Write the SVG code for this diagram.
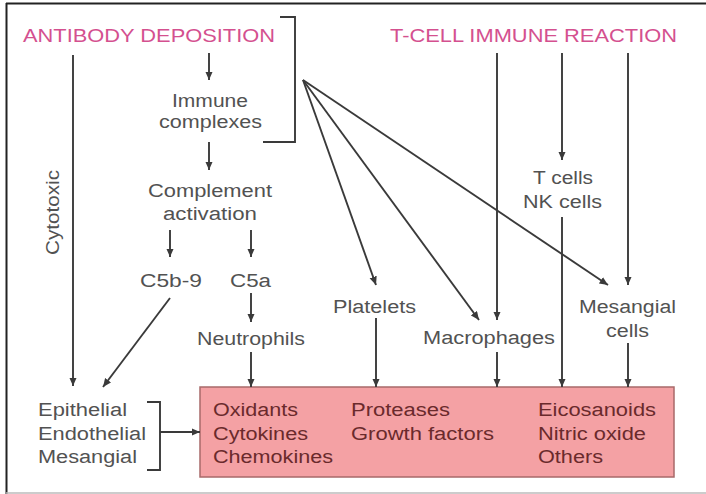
<svg xmlns="http://www.w3.org/2000/svg" width="706" height="494" viewBox="0 0 706 494">
<style>
text{font-family:"Liberation Sans",Arial,sans-serif;font-size:18px;}
.t{fill:#525252;}
.h{fill:#d4508f;}
.b{fill:#6a2a2c;}
.ln{stroke:#3a3a3a;stroke-width:1.9;fill:none;}
</style>
<defs>
<marker id="ah" markerUnits="userSpaceOnUse" markerWidth="10" markerHeight="8" refX="8.5" refY="3.75" orient="auto">
<path d="M0,0 L8.5,3.75 L0,7.5 z" fill="#3a3a3a"/>
</marker>
</defs>
<rect x="0" y="0" width="706" height="494" fill="#ffffff"/>
<g id="frame">
<line x1="6.5" y1="3" x2="6.5" y2="494" stroke="#222" stroke-width="2"/>
<line x1="6" y1="3.5" x2="706" y2="3.5" stroke="#222" stroke-width="2"/>
<line x1="6" y1="493" x2="706" y2="493" stroke="#bbb" stroke-width="1.5"/>
</g>
<g id="box">
<rect x="200" y="387" width="474" height="90" fill="#f4a1a4" stroke="#a86a6a" stroke-width="1.5"/>
<text class="b" x="213" y="416" textLength="85" lengthAdjust="spacingAndGlyphs">Oxidants</text>
<text class="b" x="213" y="440" textLength="95" lengthAdjust="spacingAndGlyphs">Cytokines</text>
<text class="b" x="213" y="463" textLength="120" lengthAdjust="spacingAndGlyphs">Chemokines</text>
<text class="b" x="351" y="416" textLength="99" lengthAdjust="spacingAndGlyphs">Proteases</text>
<text class="b" x="351" y="440" textLength="143" lengthAdjust="spacingAndGlyphs">Growth factors</text>
<text class="b" x="538" y="416" textLength="118" lengthAdjust="spacingAndGlyphs">Eicosanoids</text>
<text class="b" x="538" y="440" textLength="108" lengthAdjust="spacingAndGlyphs">Nitric oxide</text>
<text class="b" x="538" y="463" textLength="65" lengthAdjust="spacingAndGlyphs">Others</text>
</g>
<g id="antibody"><text class="h" x="23" y="42" textLength="252" lengthAdjust="spacingAndGlyphs">ANTIBODY DEPOSITION</text></g>
<g id="tcell"><text class="h" x="390" y="42" textLength="287" lengthAdjust="spacingAndGlyphs">T-CELL IMMUNE REACTION</text></g>
<g id="immune">
<text class="t" x="172" y="107" textLength="76" lengthAdjust="spacingAndGlyphs">Immune</text>
<text class="t" x="159" y="128" textLength="103" lengthAdjust="spacingAndGlyphs">complexes</text>
</g>
<g id="complement">
<text class="t" x="148" y="197" textLength="124" lengthAdjust="spacingAndGlyphs">Complement</text>
<text class="t" x="163" y="220" textLength="94" lengthAdjust="spacingAndGlyphs">activation</text>
</g>
<g id="c5b9"><text class="t" x="140" y="287" textLength="62" lengthAdjust="spacingAndGlyphs">C5b-9</text></g>
<g id="c5a"><text class="t" x="230" y="287" textLength="41" lengthAdjust="spacingAndGlyphs">C5a</text></g>
<g id="neutrophils"><text class="t" x="197" y="345" textLength="108" lengthAdjust="spacingAndGlyphs">Neutrophils</text></g>
<g id="cytotoxic"><text class="t" x="59" y="255" transform="rotate(-90 59 255)" textLength="85" lengthAdjust="spacingAndGlyphs">Cytotoxic</text></g>
<g id="cells-left">
<text class="t" x="38" y="416" textLength="89" lengthAdjust="spacingAndGlyphs">Epithelial</text>
<text class="t" x="38" y="440" textLength="108" lengthAdjust="spacingAndGlyphs">Endothelial</text>
<text class="t" x="38" y="463" textLength="99" lengthAdjust="spacingAndGlyphs">Mesangial</text>
</g>
<g id="platelets"><text class="t" x="333" y="313" textLength="83" lengthAdjust="spacingAndGlyphs">Platelets</text></g>
<g id="macrophages"><text class="t" x="423" y="344" textLength="132" lengthAdjust="spacingAndGlyphs">Macrophages</text></g>
<g id="tcells">
<text class="t" x="533" y="184" textLength="60" lengthAdjust="spacingAndGlyphs">T cells</text>
<text class="t" x="523" y="208" textLength="79" lengthAdjust="spacingAndGlyphs">NK cells</text>
</g>
<g id="mesangial-cells">
<text class="t" x="579" y="313" textLength="97" lengthAdjust="spacingAndGlyphs">Mesangial</text>
<text class="t" x="606" y="337" textLength="43" lengthAdjust="spacingAndGlyphs">cells</text>
</g>
<g id="connectors" class="ln">
<path d="M280 17 H295 V142 H263"/>
<path d="M147 402 H160 V470 H147"/>
<line x1="160" y1="432" x2="200" y2="432" marker-end="url(#ah)"/>
<line x1="73" y1="55" x2="73" y2="386" marker-end="url(#ah)"/>
<line x1="209" y1="53" x2="209" y2="80" marker-end="url(#ah)"/>
<line x1="209" y1="142" x2="209" y2="170" marker-end="url(#ah)"/>
<line x1="170" y1="230" x2="170" y2="257" marker-end="url(#ah)"/>
<line x1="251" y1="230" x2="251" y2="257" marker-end="url(#ah)"/>
<line x1="251" y1="293" x2="251" y2="322" marker-end="url(#ah)"/>
<line x1="251" y1="352" x2="251" y2="387" marker-end="url(#ah)"/>
<line x1="170" y1="298" x2="103" y2="387" marker-end="url(#ah)"/>
<line x1="303" y1="80" x2="376" y2="285" marker-end="url(#ah)"/>
<line x1="303" y1="80" x2="479" y2="320" marker-end="url(#ah)"/>
<line x1="303" y1="80" x2="608" y2="285" marker-end="url(#ah)"/>
<line x1="376" y1="318" x2="376" y2="387" marker-end="url(#ah)"/>
<line x1="497" y1="53" x2="497" y2="320" marker-end="url(#ah)"/>
<line x1="562" y1="53" x2="562" y2="160" marker-end="url(#ah)"/>
<line x1="628" y1="53" x2="628" y2="285" marker-end="url(#ah)"/>
<line x1="562" y1="217" x2="562" y2="387" marker-end="url(#ah)"/>
<line x1="497" y1="352" x2="497" y2="387" marker-end="url(#ah)"/>
<line x1="628" y1="343" x2="628" y2="387" marker-end="url(#ah)"/>
</g>
</svg>
